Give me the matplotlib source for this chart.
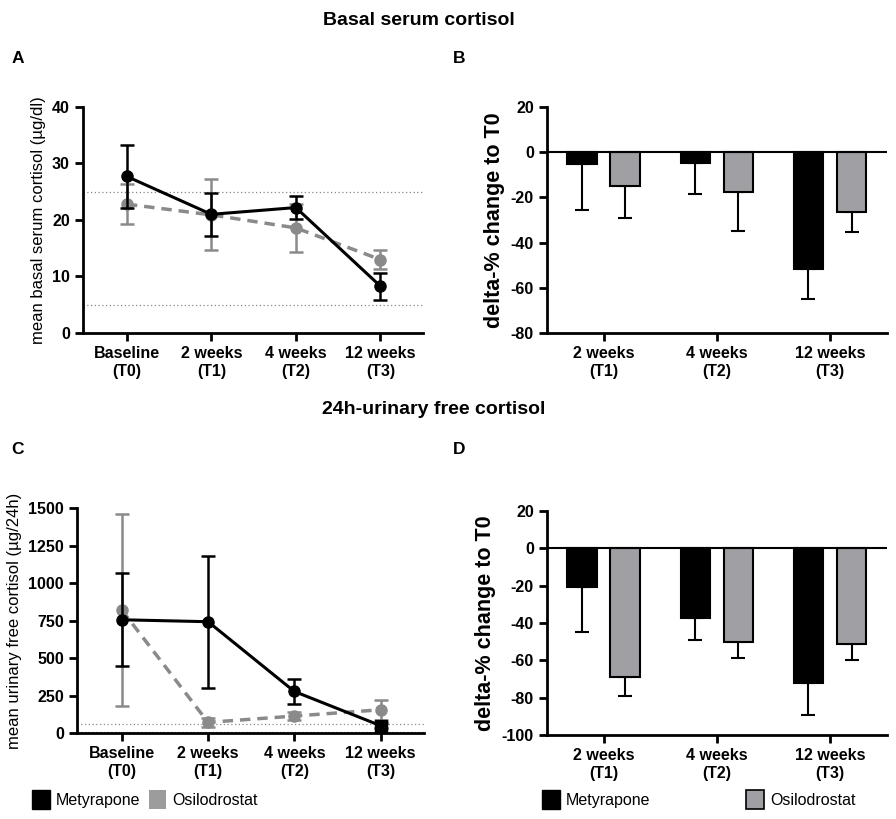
import matplotlib.pyplot as plt
from matplotlib.patches import Patch

plt.rcParams['font.family'] = ['Liberation Sans', 'DejaVu Sans']
plt.rcParams['axes.unicode_minus'] = False

# time points
line_labels = ['Baseline\n(T0)', '2 weeks\n(T1)', '4 weeks\n(T2)', '12 weeks\n(T3)']
bar_labels = ['2 weeks\n(T1)', '4 weeks\n(T2)', '12 weeks\n(T3)']

# A: basal serum cortisol (ug/dl), mean and error
serum_met = [27.7, 21.0, 22.2, 8.3]
serum_met_err = [5.5, 3.8, 2.1, 2.4]
serum_osi = [22.8, 20.9, 18.6, 13.0]
serum_osi_err = [3.5, 6.3, 4.3, 1.6]
serum_limits = [25, 5]

# B: delta-% change of serum cortisol to T0
serum_delta_met = [-5.3, -4.6, -51.7]
serum_delta_met_err = [20.3, 13.8, 13.2]
serum_delta_osi = [-14.8, -17.5, -26.4]
serum_delta_osi_err = [14.2, 17.2, 8.9]

# C: 24h urinary free cortisol (ug/24h)
ufc_met = [755, 742, 277, 49]
ufc_met_err = [310, 440, 85, 15]
ufc_osi = [820, 71, 113, 155]
ufc_osi_err = [640, 32, 25, 67]
ufc_limits = [62, 6]

# D: delta-% change of UFC to T0
ufc_delta_met = [-20.9, -37.5, -71.9]
ufc_delta_met_err = [23.7, 11.8, 17.6]
ufc_delta_osi = [-68.8, -50.0, -51.3]
ufc_delta_osi_err = [10.3, 8.9, 8.5]

BLACK = '#000000'
GREY_LINE = '#8a8a8a'
GREY_BAR = '#a0a0a4'

fig = plt.figure(figsize=(8.96, 8.19), dpi=100)


def style_axes(ax):
    for s in ['top', 'right']:
        ax.spines[s].set_visible(False)
    for s in ['left', 'bottom']:
        ax.spines[s].set_linewidth(2)
    ax.tick_params(axis='both', width=2, length=6, labelsize=11.5)
    for t in ax.get_xticklabels() + ax.get_yticklabels():
        t.set_fontweight('bold')


def line_panel(rect, met, met_err, osi, osi_err, limits, ylim, yticks, ylabel, last_square=False):
    ax = fig.add_axes(rect)
    x = list(range(len(met)))
    for y in limits:
        ax.axhline(y, color='#888888', lw=0.9, ls=(0, (1, 2)), zorder=1)
    ax.errorbar(x, osi, yerr=osi_err, color=GREY_LINE, ls=(0, (3, 2)), lw=2.5,
                marker='o', ms=8, capsize=5, elinewidth=1.8, capthick=1.8, zorder=2)
    ax.errorbar(x, met, yerr=met_err, color=BLACK, ls='-', lw=2.2,
                marker='o', ms=8, capsize=5, elinewidth=1.8, capthick=1.8, zorder=3)
    if last_square:
        ax.plot(x[-1], met[-1], 's', color=BLACK, ms=8, zorder=4)
    ax.set_xlim(-0.52, 3.5)
    ax.set_ylim(*ylim)
    ax.set_yticks(yticks)
    ax.set_xticks(x)
    ax.set_xticklabels(line_labels)
    ax.set_ylabel(ylabel, fontsize=12)
    style_axes(ax)
    return ax


def bar_panel(rect, met, met_err, osi, osi_err, ylim, yticks):
    ax = fig.add_axes(rect)
    x = list(range(len(met)))
    xm = [i - 0.19 for i in x]
    xo = [i + 0.19 for i in x]
    ax.bar(xm, met, width=0.26, color=BLACK, edgecolor=BLACK, lw=1.5, zorder=2)
    ax.bar(xo, osi, width=0.26, color=GREY_BAR, edgecolor=BLACK, lw=1.5, zorder=2)
    ax.errorbar(xm, met, yerr=[met_err, [0] * len(met)], fmt='none', ecolor=BLACK,
                elinewidth=1.5, capsize=5, capthick=1.5, zorder=1)
    ax.errorbar(xo, osi, yerr=[osi_err, [0] * len(osi)], fmt='none', ecolor=BLACK,
                elinewidth=1.5, capsize=5, capthick=1.5, zorder=1)
    ax.axhline(0, color=BLACK, lw=1.5, zorder=3)
    ax.set_xlim(-0.5, 2.5)
    ax.set_ylim(*ylim)
    ax.set_yticks(yticks)
    ax.set_xticks(x)
    ax.set_xticklabels(bar_labels)
    ax.set_ylabel('delta-% change to T0', fontsize=15.5, fontweight='bold')
    style_axes(ax)
    return ax


line_panel([0.0926, 0.5934, 0.379, 0.276], serum_met, serum_met_err, serum_osi, serum_osi_err,
           serum_limits, (0, 40), [0, 10, 20, 30, 40], 'mean basal serum cortisol (µg/dl)')
bar_panel([0.6105, 0.5934, 0.379, 0.276], serum_delta_met, serum_delta_met_err,
          serum_delta_osi, serum_delta_osi_err, (-80, 20), [-80, -60, -40, -20, 0, 20])
line_panel([0.0859, 0.105, 0.387, 0.2747], ufc_met, ufc_met_err, ufc_osi, ufc_osi_err,
           ufc_limits, (0, 1500), [0, 250, 500, 750, 1000, 1250, 1500],
           'mean urinary free cortisol (µg/24h)', last_square=True)
bar_panel([0.6105, 0.1026, 0.379, 0.2735], ufc_delta_met, ufc_delta_met_err,
          ufc_delta_osi, ufc_delta_osi_err, (-100, 20), [-100, -80, -60, -40, -20, 0, 20])

fig.text(0.468, 0.975, 'Basal serum cortisol', ha='center', va='center', fontsize=14, fontweight='bold')
fig.text(0.484, 0.500, '24h-urinary free cortisol', ha='center', va='center', fontsize=14, fontweight='bold')
for lab, xx, yy in [('A', 0.013, 0.929), ('B', 0.505, 0.929), ('C', 0.013, 0.451), ('D', 0.505, 0.451)]:
    fig.text(xx, yy, lab, ha='left', va='center', fontsize=12.5, fontweight='bold')

# legends: one entry each so that every square sits where the reference has it
names = ['Metyrapone', 'Osilodrostat']
left_handles = [Patch(facecolor=BLACK, edgecolor=BLACK), Patch(facecolor='#9c9c9c', edgecolor='none')]
right_handles = [Patch(facecolor=BLACK, edgecolor=BLACK), Patch(facecolor=GREY_BAR, edgecolor=BLACK, lw=1.2)]
left_x = [0.036, 0.166]
right_x = [0.605, 0.833]
for handles, xs in [(left_handles, left_x), (right_handles, right_x)]:
    for h, n, xx in zip(handles, names, xs):
        fig.legend([h], [n], loc='center left', bbox_to_anchor=(xx, 0.024), frameon=False,
                   prop={'size': 11.5}, handlelength=1.1, handleheight=1.4,
                   handletextpad=0.4, borderpad=0, borderaxespad=0)

fig.savefig('out.png', dpi=100)
